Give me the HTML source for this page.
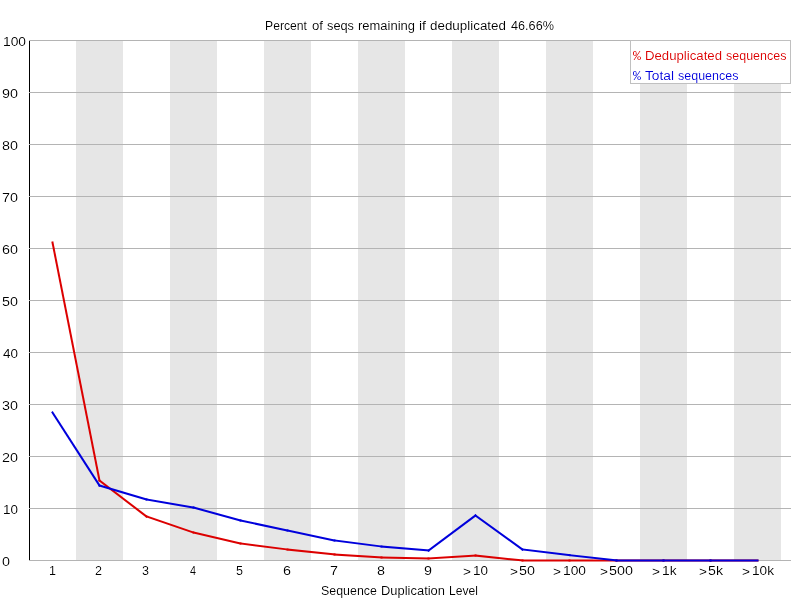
<!DOCTYPE html>
<html><head><meta charset="utf-8"><style>
html,body{margin:0;padding:0;background:#fff;width:800px;height:600px;overflow:hidden}
svg{display:block;will-change:transform}
text{font-family:"Liberation Sans",sans-serif;font-size:12.5px}
</style></head><body>
<svg width="800" height="600" viewBox="0 0 800 600">
<defs><filter id="th" filterUnits="userSpaceOnUse" x="0" y="0" width="800" height="600" color-interpolation-filters="sRGB"><feComponentTransfer><feFuncA type="gamma" exponent="1.3"/></feComponentTransfer></filter></defs>
<rect x="0" y="0" width="800" height="600" fill="#fff"/>
<rect x="76" y="40" width="47" height="520" fill="rgb(230,230,230)"/>
<rect x="170" y="40" width="47" height="520" fill="rgb(230,230,230)"/>
<rect x="264" y="40" width="47" height="520" fill="rgb(230,230,230)"/>
<rect x="358" y="40" width="47" height="520" fill="rgb(230,230,230)"/>
<rect x="452" y="40" width="47" height="520" fill="rgb(230,230,230)"/>
<rect x="546" y="40" width="47" height="520" fill="rgb(230,230,230)"/>
<rect x="640" y="40" width="47" height="520" fill="rgb(230,230,230)"/>
<rect x="734" y="40" width="47" height="520" fill="rgb(230,230,230)"/>
<line x1="29.5" y1="40" x2="29.5" y2="561" stroke="#000" stroke-width="1"/>
<line x1="29" y1="560.5" x2="791" y2="560.5" stroke="rgb(180,180,180)" stroke-width="1"/>
<line x1="29" y1="508.5" x2="791" y2="508.5" stroke="rgb(180,180,180)" stroke-width="1"/>
<line x1="29" y1="456.5" x2="791" y2="456.5" stroke="rgb(180,180,180)" stroke-width="1"/>
<line x1="29" y1="404.5" x2="791" y2="404.5" stroke="rgb(180,180,180)" stroke-width="1"/>
<line x1="29" y1="352.5" x2="791" y2="352.5" stroke="rgb(180,180,180)" stroke-width="1"/>
<line x1="29" y1="300.5" x2="791" y2="300.5" stroke="rgb(180,180,180)" stroke-width="1"/>
<line x1="29" y1="248.5" x2="791" y2="248.5" stroke="rgb(180,180,180)" stroke-width="1"/>
<line x1="29" y1="196.5" x2="791" y2="196.5" stroke="rgb(180,180,180)" stroke-width="1"/>
<line x1="29" y1="144.5" x2="791" y2="144.5" stroke="rgb(180,180,180)" stroke-width="1"/>
<line x1="29" y1="92.5" x2="791" y2="92.5" stroke="rgb(180,180,180)" stroke-width="1"/>
<line x1="29" y1="40.5" x2="791" y2="40.5" stroke="rgb(180,180,180)" stroke-width="1"/>
<line x1="52.5" y1="242.5" x2="99.5" y2="480.5" stroke="rgb(220,0,0)" stroke-width="2" stroke-linecap="square"/>
<line x1="99.5" y1="480.5" x2="146.5" y2="516.5" stroke="rgb(220,0,0)" stroke-width="2" stroke-linecap="square"/>
<line x1="146.5" y1="516.5" x2="193.5" y2="532.5" stroke="rgb(220,0,0)" stroke-width="2" stroke-linecap="square"/>
<line x1="193.5" y1="532.5" x2="240.5" y2="543.5" stroke="rgb(220,0,0)" stroke-width="2" stroke-linecap="square"/>
<line x1="240.5" y1="543.5" x2="287.5" y2="549.5" stroke="rgb(220,0,0)" stroke-width="2" stroke-linecap="square"/>
<line x1="287.5" y1="549.5" x2="334.5" y2="554.5" stroke="rgb(220,0,0)" stroke-width="2" stroke-linecap="square"/>
<line x1="334.5" y1="554.5" x2="381.5" y2="557.5" stroke="rgb(220,0,0)" stroke-width="2" stroke-linecap="square"/>
<line x1="381.5" y1="557.5" x2="428.5" y2="558.5" stroke="rgb(220,0,0)" stroke-width="2" stroke-linecap="square"/>
<line x1="428.5" y1="558.5" x2="475.5" y2="555.5" stroke="rgb(220,0,0)" stroke-width="2" stroke-linecap="square"/>
<line x1="475.5" y1="555.5" x2="522.5" y2="560.5" stroke="rgb(220,0,0)" stroke-width="2" stroke-linecap="square"/>
<line x1="522.5" y1="560.5" x2="569.5" y2="560.5" stroke="rgb(220,0,0)" stroke-width="2" stroke-linecap="square"/>
<line x1="569.5" y1="560.5" x2="616.5" y2="560.5" stroke="rgb(220,0,0)" stroke-width="2" stroke-linecap="square"/>
<line x1="616.5" y1="560.5" x2="663.5" y2="560.5" stroke="rgb(220,0,0)" stroke-width="2" stroke-linecap="square"/>
<line x1="663.5" y1="560.5" x2="710.5" y2="560.5" stroke="rgb(220,0,0)" stroke-width="2" stroke-linecap="square"/>
<line x1="710.5" y1="560.5" x2="757.5" y2="560.5" stroke="rgb(220,0,0)" stroke-width="2" stroke-linecap="square"/>
<line x1="52.5" y1="412.5" x2="99.5" y2="485.5" stroke="rgb(0,0,220)" stroke-width="2" stroke-linecap="square"/>
<line x1="99.5" y1="485.5" x2="146.5" y2="499.5" stroke="rgb(0,0,220)" stroke-width="2" stroke-linecap="square"/>
<line x1="146.5" y1="499.5" x2="193.5" y2="507.5" stroke="rgb(0,0,220)" stroke-width="2" stroke-linecap="square"/>
<line x1="193.5" y1="507.5" x2="240.5" y2="520.5" stroke="rgb(0,0,220)" stroke-width="2" stroke-linecap="square"/>
<line x1="240.5" y1="520.5" x2="287.5" y2="530.5" stroke="rgb(0,0,220)" stroke-width="2" stroke-linecap="square"/>
<line x1="287.5" y1="530.5" x2="334.5" y2="540.5" stroke="rgb(0,0,220)" stroke-width="2" stroke-linecap="square"/>
<line x1="334.5" y1="540.5" x2="381.5" y2="546.5" stroke="rgb(0,0,220)" stroke-width="2" stroke-linecap="square"/>
<line x1="381.5" y1="546.5" x2="428.5" y2="550.5" stroke="rgb(0,0,220)" stroke-width="2" stroke-linecap="square"/>
<line x1="428.5" y1="550.5" x2="475.5" y2="515.5" stroke="rgb(0,0,220)" stroke-width="2" stroke-linecap="square"/>
<line x1="475.5" y1="515.5" x2="522.5" y2="549.5" stroke="rgb(0,0,220)" stroke-width="2" stroke-linecap="square"/>
<line x1="522.5" y1="549.5" x2="569.5" y2="555.2" stroke="rgb(0,0,220)" stroke-width="2" stroke-linecap="square"/>
<line x1="569.5" y1="555.2" x2="616.5" y2="560.5" stroke="rgb(0,0,220)" stroke-width="2" stroke-linecap="square"/>
<line x1="616.5" y1="560.5" x2="663.5" y2="560.5" stroke="rgb(0,0,220)" stroke-width="2" stroke-linecap="square"/>
<line x1="663.5" y1="560.5" x2="710.5" y2="560.5" stroke="rgb(0,0,220)" stroke-width="2" stroke-linecap="square"/>
<line x1="710.5" y1="560.5" x2="757.5" y2="560.5" stroke="rgb(0,0,220)" stroke-width="2" stroke-linecap="square"/>
<rect x="630.5" y="40.5" width="160" height="43" fill="#fff" stroke="rgb(192,192,192)" stroke-width="1"/>
<g filter="url(#th)">
<text x="265.00" y="30" fill="#000" textLength="42.00" lengthAdjust="spacingAndGlyphs">Percent</text>
<text x="312.00" y="30" fill="#000" textLength="11.00" lengthAdjust="spacingAndGlyphs">of</text>
<text x="327.00" y="30" fill="#000" textLength="27.00" lengthAdjust="spacingAndGlyphs">seqs</text>
<text x="358.00" y="30" fill="#000" textLength="57.00" lengthAdjust="spacingAndGlyphs">remaining</text>
<text x="419.00" y="30" fill="#000" textLength="7.00" lengthAdjust="spacingAndGlyphs">if</text>
<text x="430.00" y="30" fill="#000" textLength="76.00" lengthAdjust="spacingAndGlyphs">deduplicated</text>
<text x="511.00" y="30" fill="#000" textLength="43.00" lengthAdjust="spacingAndGlyphs">46.66%</text>
<text x="321.00" y="595" fill="#000" textLength="56.00" lengthAdjust="spacingAndGlyphs">Sequence</text>
<text x="381.00" y="595" fill="#000" textLength="64.00" lengthAdjust="spacingAndGlyphs">Duplication</text>
<text x="449.00" y="595" fill="#000" textLength="29.00" lengthAdjust="spacingAndGlyphs">Level</text>
<text x="633.00" y="60" fill="rgb(220,0,0)" style="font-family:'Liberation Mono',monospace" textLength="8.00" lengthAdjust="spacingAndGlyphs">%</text>
<text x="645.00" y="60" fill="rgb(220,0,0)" textLength="77.00" lengthAdjust="spacingAndGlyphs">Deduplicated</text>
<text x="726.00" y="60" fill="rgb(220,0,0)" textLength="60.50" lengthAdjust="spacingAndGlyphs">sequences</text>
<text x="633.00" y="80" fill="rgb(0,0,220)" style="font-family:'Liberation Mono',monospace" textLength="8.00" lengthAdjust="spacingAndGlyphs">%</text>
<text x="645.00" y="80" fill="rgb(0,0,220)" textLength="29.00" lengthAdjust="spacingAndGlyphs">Total</text>
<text x="678.00" y="80" fill="rgb(0,0,220)" textLength="60.50" lengthAdjust="spacingAndGlyphs">sequences</text>
<text x="2.00" y="566" fill="#000" textLength="8.00" lengthAdjust="spacingAndGlyphs">0</text>
<text x="3.00" y="514" fill="#000" textLength="15.00" lengthAdjust="spacingAndGlyphs">10</text>
<text x="2.00" y="462" fill="#000" textLength="16.00" lengthAdjust="spacingAndGlyphs">20</text>
<text x="2.00" y="410" fill="#000" textLength="16.00" lengthAdjust="spacingAndGlyphs">30</text>
<text x="3.00" y="358" fill="#000" textLength="15.00" lengthAdjust="spacingAndGlyphs">40</text>
<text x="2.00" y="306" fill="#000" textLength="16.00" lengthAdjust="spacingAndGlyphs">50</text>
<text x="2.00" y="254" fill="#000" textLength="16.00" lengthAdjust="spacingAndGlyphs">60</text>
<text x="2.00" y="202" fill="#000" textLength="16.00" lengthAdjust="spacingAndGlyphs">70</text>
<text x="2.00" y="150" fill="#000" textLength="16.00" lengthAdjust="spacingAndGlyphs">80</text>
<text x="2.00" y="98" fill="#000" textLength="16.00" lengthAdjust="spacingAndGlyphs">90</text>
<text x="3.00" y="46" fill="#000" textLength="23.00" lengthAdjust="spacingAndGlyphs">100</text>
<text x="49.00" y="575" fill="#000" textLength="7.00" lengthAdjust="spacingAndGlyphs">1</text>
<text x="95.00" y="575" fill="#000" textLength="7.00" lengthAdjust="spacingAndGlyphs">2</text>
<text x="142.00" y="575" fill="#000" textLength="7.00" lengthAdjust="spacingAndGlyphs">3</text>
<text x="190.00" y="575" fill="#000" textLength="6.00" lengthAdjust="spacingAndGlyphs">4</text>
<text x="236.00" y="575" fill="#000" textLength="7.00" lengthAdjust="spacingAndGlyphs">5</text>
<text x="283.00" y="575" fill="#000" textLength="8.00" lengthAdjust="spacingAndGlyphs">6</text>
<text x="330.00" y="575" fill="#000" textLength="8.00" lengthAdjust="spacingAndGlyphs">7</text>
<text x="377.00" y="575" fill="#000" textLength="8.00" lengthAdjust="spacingAndGlyphs">8</text>
<text x="424.00" y="575" fill="#000" textLength="8.00" lengthAdjust="spacingAndGlyphs">9</text>
<text x="463.00" y="576" fill="#000" textLength="8.00" lengthAdjust="spacingAndGlyphs">&gt;</text>
<text x="473.00" y="575" fill="#000" textLength="15.00" lengthAdjust="spacingAndGlyphs">10</text>
<text x="510.00" y="576" fill="#000" textLength="8.00" lengthAdjust="spacingAndGlyphs">&gt;</text>
<text x="519.00" y="575" fill="#000" textLength="16.00" lengthAdjust="spacingAndGlyphs">50</text>
<text x="553.00" y="576" fill="#000" textLength="8.00" lengthAdjust="spacingAndGlyphs">&gt;</text>
<text x="563.00" y="575" fill="#000" textLength="23.00" lengthAdjust="spacingAndGlyphs">100</text>
<text x="600.00" y="576" fill="#000" textLength="8.00" lengthAdjust="spacingAndGlyphs">&gt;</text>
<text x="609.00" y="575" fill="#000" textLength="24.00" lengthAdjust="spacingAndGlyphs">500</text>
<text x="652.00" y="576" fill="#000" textLength="8.00" lengthAdjust="spacingAndGlyphs">&gt;</text>
<text x="662.00" y="575" fill="#000" textLength="14.50" lengthAdjust="spacingAndGlyphs">1k</text>
<text x="699.00" y="576" fill="#000" textLength="8.00" lengthAdjust="spacingAndGlyphs">&gt;</text>
<text x="708.00" y="575" fill="#000" textLength="15.00" lengthAdjust="spacingAndGlyphs">5k</text>
<text x="742.00" y="576" fill="#000" textLength="8.00" lengthAdjust="spacingAndGlyphs">&gt;</text>
<text x="752.00" y="575" fill="#000" textLength="22.00" lengthAdjust="spacingAndGlyphs">10k</text>
</g>
</svg>
</body></html>
